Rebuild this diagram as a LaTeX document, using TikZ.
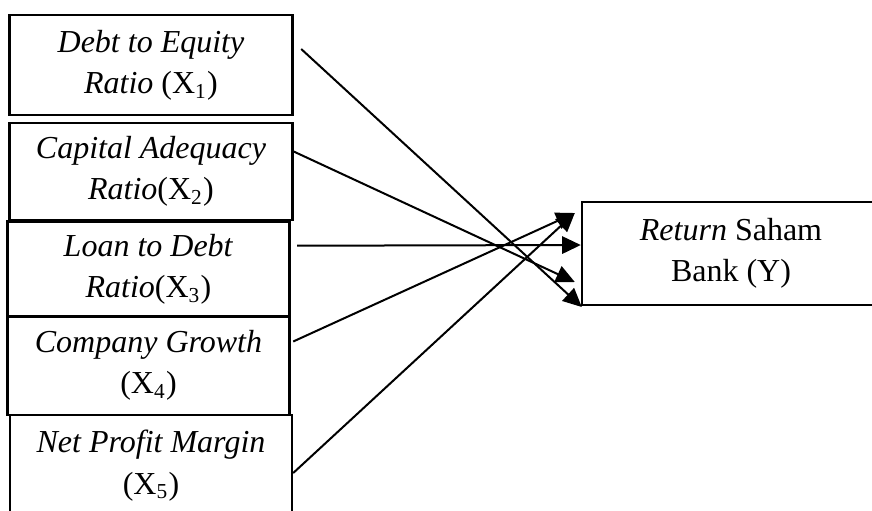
\documentclass[tikz,border=0pt]{standalone}
\usepackage{fontspec}
\setmainfont{Liberation Serif}
\usepackage{tikz}
\usetikzlibrary{positioning}
\usetikzlibrary{arrows.meta, calc}
\def\px{0.375pt}
\tikzstyle{arrow} = [line width=0.75pt,-{Triangle[length=7pt,width=6.5pt]}]
\tikzstyle{factor} = [draw, line width=0.9pt, align=center, inner sep=0pt, font=\fontsize{12}{15.5}\selectfont]

\begin{document}
\begin{tikzpicture}[x=\px, y=-\px]
					\useasboundingbox (0,0) rectangle (872,510);
					\clip (0,0) rectangle (872,510);

					% independent variables
					\node[factor, minimum width=283*\px, minimum height=100*\px] (xone) at (151,65) {\textit{Debt to Equity}\\\textit{Ratio} (X\textsubscript{1})};
					\node[factor, minimum width=283*\px, minimum height=97*\px] (xtwo) at (151,171.5) {\textit{Capital Adequacy}\\\textit{Ratio}(X\textsubscript{2})};
					\node[factor, minimum width=282*\px, minimum height=95*\px] (xthree) at (148.5,269) {\textit{Loan to Debt}\\\textit{Ratio}(X\textsubscript{3})};
					\node[factor, minimum width=282*\px, minimum height=99*\px] (xfour) at (148.5,365.5) {\textit{Company Growth}\\(X\textsubscript{4})};
					\node[factor, minimum width=282*\px, minimum height=101*\px] (xfive) at (151,465.5) {\textit{Net Profit Margin}\\(X\textsubscript{5})};

					% dependent variable
					\node[factor, minimum width=298*\px, minimum height=103*\px] (ret) at (731,253.5) {\textit{Return} Saham\\Bank (Y)};

					%arrows
					\draw[arrow] ($(xone.east)+(7.5,-16)$) -- ($(ret.west)+(1,53.5)$);
					\draw[arrow] ($(xtwo.east)+(0,-20)$) -- ($(ret.west)+(-6,28.5)$);
					\draw[arrow] ($(xthree.east)+(6.5,-23.3)$) -- ($(ret.west)+(0,-8.5)$);
					\draw[arrow] ($(xfour.east)+(2.5,-24)$) -- ($(ret.west)+(-6,-40.5)$);
					\draw[arrow] ($(xfive.east)+(0,7.5)$) -- ($(ret.west)+(-6,-40.5)$);
				\end{tikzpicture}
\end{document}
